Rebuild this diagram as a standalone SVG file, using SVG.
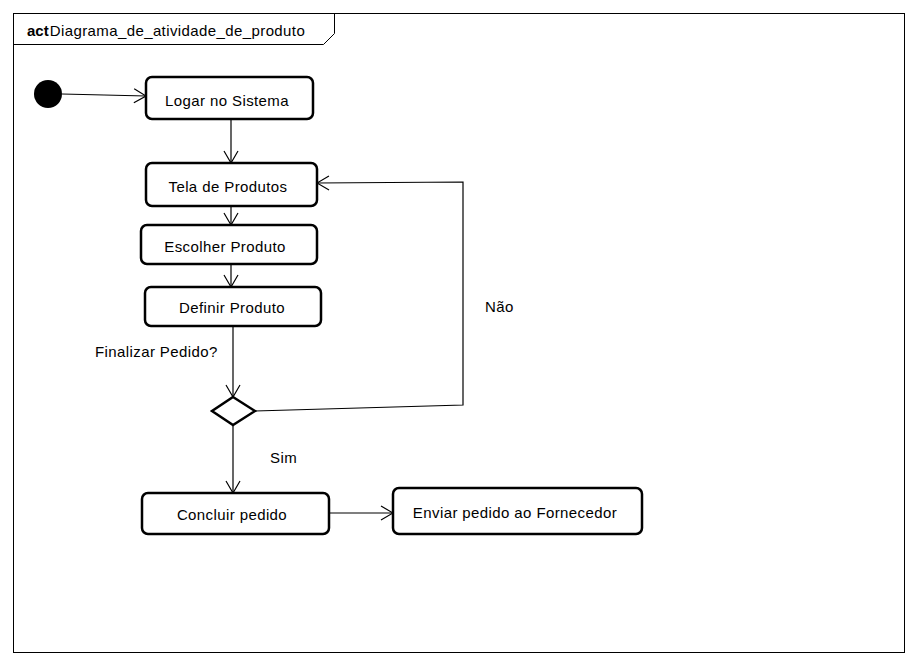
<svg xmlns="http://www.w3.org/2000/svg" width="918" height="666" viewBox="0 0 918 666">
  <style>
    .frame { fill: none; stroke: #000; stroke-width: 1; }
    .action { fill: #fff; stroke: #000; stroke-width: 2.5; }
    .edge { fill: none; stroke: #000; stroke-width: 1.2; }
    .lbl { font-family: "Liberation Sans", Arial, sans-serif; font-size: 15px; letter-spacing: 0.4px; fill: #000; }
    .c { text-anchor: middle; }
  </style>
  <defs>
    <marker id="open" viewBox="0 0 14 16" refX="13" refY="8" markerWidth="14" markerHeight="16" markerUnits="userSpaceOnUse" orient="auto">
      <path d="M1,1 L13,8 L1,15" fill="none" stroke="#000" stroke-width="1.2"/>
    </marker>
  </defs>
  <rect width="918" height="666" fill="#fff"/>

  <!-- frame with name tab -->
  <g id="frame">
    <rect class="frame" x="13.5" y="13.5" width="891" height="639"/>
    <path class="frame" d="M13.5,44.5 H323.5 L334.5,33.5 V13.5"/>
    <text class="lbl" x="27" y="36"><tspan font-weight="bold" letter-spacing="0">act</tspan><tspan dx="1">Diagrama_de_atividade_de_produto</tspan></text>
  </g>

  <!-- connectors -->
  <g id="connectors">
    <line class="edge" x1="62" y1="94" x2="146" y2="96" marker-end="url(#open)"/>
    <line class="edge" x1="231" y1="119" x2="231" y2="163" marker-end="url(#open)"/>
    <line class="edge" x1="231" y1="206" x2="231" y2="225" marker-end="url(#open)"/>
    <line class="edge" x1="231" y1="264" x2="231" y2="287" marker-end="url(#open)"/>
    <line class="edge" x1="233" y1="326" x2="233" y2="397" marker-end="url(#open)"/>
    <polyline class="edge" points="255,411 463,405 463,182 317,183" marker-end="url(#open)"/>
    <line class="edge" x1="233" y1="425" x2="233" y2="493" marker-end="url(#open)"/>
    <line class="edge" x1="330" y1="513" x2="393" y2="513" marker-end="url(#open)"/>
    <text class="lbl" x="95" y="357">Finalizar Pedido?</text>
    <text class="lbl" x="485" y="312">Não</text>
    <text class="lbl" x="270" y="463">Sim</text>
  </g>

  <g id="initial">
    <circle cx="48" cy="94" r="14" fill="#000"/>
  </g>

  <g id="logar">
    <rect class="action" x="146" y="77" width="167" height="42" rx="6"/>
    <text class="lbl c" x="227" y="106">Logar no Sistema</text>
  </g>

  <g id="tela">
    <rect class="action" x="146" y="163" width="171" height="43" rx="6"/>
    <text class="lbl c" x="228" y="192">Tela de Produtos</text>
  </g>

  <g id="escolher">
    <rect class="action" x="141" y="225" width="176" height="39" rx="6"/>
    <text class="lbl c" x="225" y="252">Escolher Produto</text>
  </g>

  <g id="definir">
    <rect class="action" x="145" y="287" width="176" height="39" rx="6"/>
    <text class="lbl c" x="232" y="313">Definir Produto</text>
  </g>

  <g id="decisao">
    <polygon class="action" points="233,397 255,411 233,425 212,411"/>
  </g>

  <g id="concluir">
    <rect class="action" x="142" y="493" width="187" height="41" rx="6"/>
    <text class="lbl c" x="232" y="520">Concluir pedido</text>
  </g>

  <g id="enviar">
    <rect class="action" x="393" y="488" width="249" height="46" rx="6"/>
    <text class="lbl c" x="515" y="518">Enviar pedido ao Fornecedor</text>
  </g>
</svg>
